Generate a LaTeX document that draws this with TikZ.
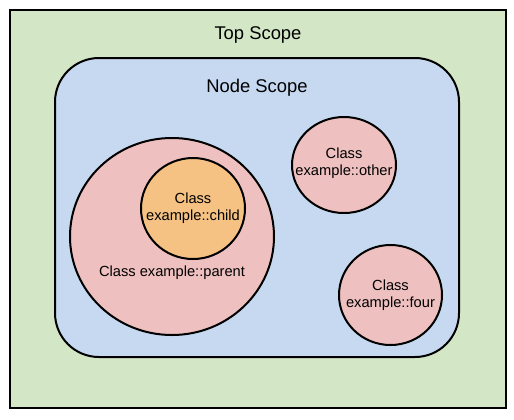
\documentclass[tikz,border=0pt]{standalone}
\usepackage{fontspec}
\setmainfont{Liberation Sans}
\usetikzlibrary{shapes.geometric}

\definecolor{topgreen}{HTML}{D3E6C6}
\definecolor{scopeblue}{HTML}{C6D9F1}
\definecolor{classpink}{HTML}{EFC0C0}
\definecolor{childorange}{HTML}{F5C283}

\tikzset{
  scopebox/.style={draw=black, line width=1.5pt},
  classnode/.style={ellipse, draw=black, line width=1.5pt, fill=classpink, inner sep=0pt},
  scopetitle/.style={font=\fontsize{13.8}{16}\selectfont},
  classtext/.style={align=center, inner sep=0pt, font=\fontsize{11}{12.5}\selectfont}
}

\begin{document}
\begin{tikzpicture}[x=0.75pt, y=-0.75pt]
    \useasboundingbox (0,0) rectangle (514,419);

    \node[scopebox, fill=topgreen, minimum width=372pt, minimum height=298.5pt] (top) at (258,209) {};
    \node[scopebox, fill=scopeblue, rounded corners=33pt, minimum width=303pt, minimum height=224.25pt] (nodescope) at (257,207.5) {};

    \node[scopetitle] (toplabel) at (258,35) {Top Scope};
    \node[scopetitle] (nodescopelabel) at (257,88) {Node Scope};

    \node[classnode, minimum width=153pt, minimum height=147.75pt] (parent) at (172,236.5) {};
    \node[classnode, fill=childorange, minimum width=78pt, minimum height=75.75pt] (child) at (193,208.5) {};
    \node[classnode, minimum width=78pt, minimum height=72pt] (other) at (344,165) {};
    \node[classnode, minimum width=77.25pt, minimum height=75pt] (four) at (390.5,295) {};

    \node[classtext] (childlabel) at (193,208) {Class\\example::child};
    \node[classtext] (parentlabel) at (172,273) {Class example::parent};
    \node[classtext] (otherlabel) at (344,163) {Class\\example::other};
    \node[classtext] (fourlabel) at (390.5,295) {Class\\example::four};
  \end{tikzpicture}
\end{document}
